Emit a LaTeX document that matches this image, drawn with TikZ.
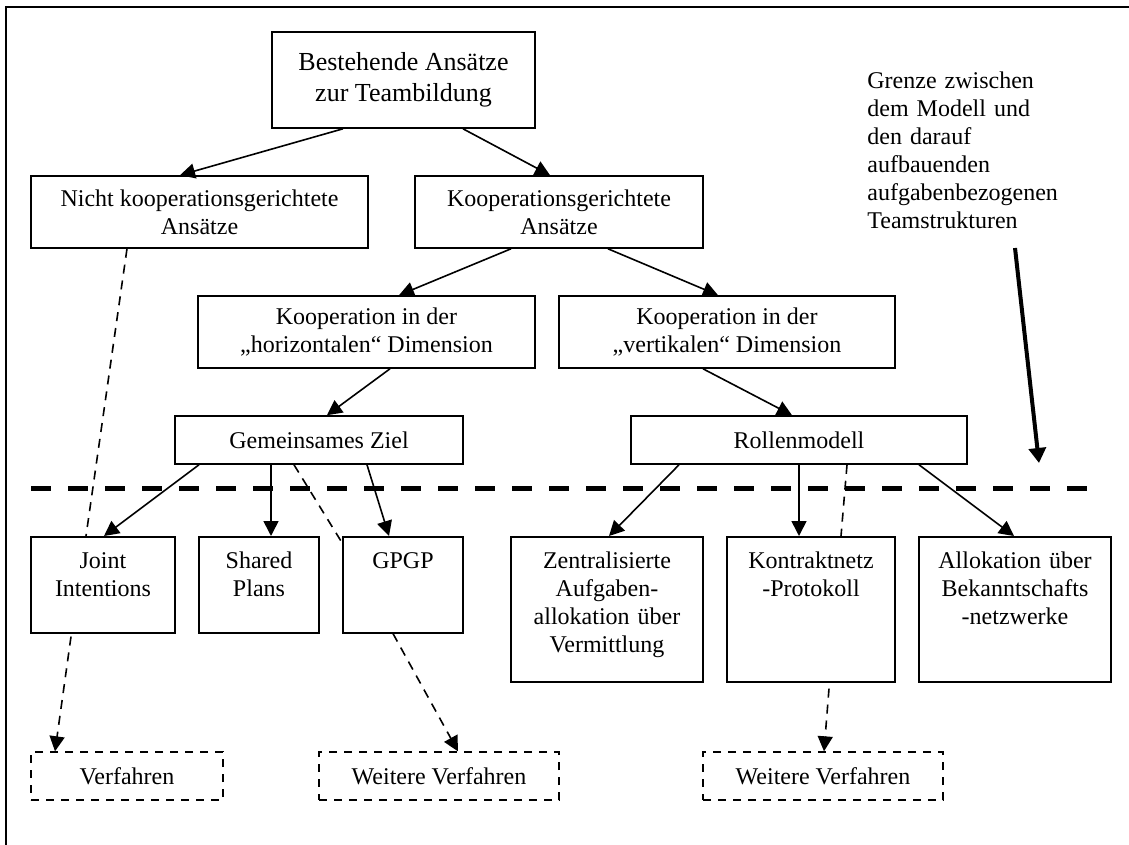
\documentclass[tikz,border=0pt]{standalone}
\usepackage{fontspec}
\setmainfont{Liberation Serif}
\usetikzlibrary{arrows.meta}

\begin{document}
\begin{tikzpicture}[
  x=0.5pt,y=-0.5pt,
  every node/.style={align=center,font=\fontsize{12}{14}\selectfont},
  approach/.style={draw,line width=0.8pt,inner sep=0pt},
  rootApproach/.style={approach,font=\fontsize{13}{15.5}\selectfont},
  concept/.style={draw,line width=0.8pt,anchor=north,inner xsep=0pt,inner ysep=7pt,text height=9pt},
  method/.style={draw,line width=0.7pt,dash pattern=on 4pt off 3.5pt,inner sep=0pt},
  note/.style={anchor=north west,align=left,inner sep=0pt,text height=9pt,text width=110pt},
  approachToApproach/.style={-{Triangle[length=7.5pt,width=7.5pt]},line width=0.8pt},
  approachToConcept/.style={-,line width=0.8pt,dash pattern=on 4.5pt off 3.5pt},
  conceptToMethod/.style={-{Triangle[length=7.5pt,width=7.5pt]},line width=0.8pt,dash pattern=on 4.5pt off 3.5pt},
  boundary/.style={line width=2.5pt,dash pattern=on 10pt off 8.5pt},
  boundaryHint/.style={-{Triangle[length=7.5pt,width=8.5pt]},line width=2pt}]

  \useasboundingbox (0,0) rectangle (1129,845);
  \clip (0,0) rectangle (1129,845);
  \draw [line width=1pt] (5.5,900) -- (5.5,7) -- (1129,7);

  % approaches
  \node[rootApproach,minimum width=131.5pt,minimum height=48pt] (aTeam) at (403.5,80) {Bestehende Ansätze\\zur Teambildung};
  \node[approach,minimum width=168.5pt,minimum height=36pt] (aNonCoop) at (199.5,212) {Nicht kooperationsgerichtete\\Ansätze};
  \node[approach,minimum width=144pt,minimum height=36pt] (aCoop) at (559,212) {Kooperationsgerichtete\\Ansätze};
  \node[approach,minimum width=168.5pt,minimum height=36pt] (aHorizontal) at (366.5,332) {Kooperation in der\\„horizontalen“ Dimension};
  \node[approach,minimum width=168pt,minimum height=36pt] (aVertical) at (727,332) {Kooperation in der\\„vertikalen“ Dimension};
  \node[approach,minimum width=144pt,minimum height=24pt] (aGoal) at (319,440) {Gemeinsames Ziel};
  \node[approach,minimum width=168pt,minimum height=24pt] (aRoles) at (799,440) {Rollenmodell};

  % concepts below the boundary
  \node[concept,minimum width=72pt,text width=68pt,text depth=25pt] (cJoint) at (103,536) {Joint\\Intentions};
  \node[concept,minimum width=60pt,text width=56pt,text depth=25pt] (cShared) at (259,536) {Shared\\Plans};
  \node[concept,minimum width=60pt,text width=56pt,text depth=25pt] (cGPGP) at (403,536) {GPGP};
  \node[concept,minimum width=96pt,text width=92pt,text depth=49.5pt] (cCentral) at (607,536) {Zentralisierte\\Aufgaben-\\allokation über\\Vermittlung};
  \node[concept,minimum width=84pt,text width=80pt,text depth=49.5pt] (cContract) at (811,536) {Kontraktnetz\\-Protokoll};
  \node[concept,minimum width=96pt,text width=92pt,text depth=49.5pt] (cAcquaint) at (1015,536) {Allokation über\\Bekanntschafts\\-netzwerke};

  % methods
  \node[method,minimum width=96pt,minimum height=24pt] (mJoint) at (127,776) {Verfahren};
  \node[method,minimum width=120pt,minimum height=24pt] (mGPGP) at (439,776) {Weitere Verfahren};
  \node[method,minimum width=120pt,minimum height=24pt] (mContract) at (823,776) {Weitere Verfahren};

  % boundary and its note
  \node[note] (nBoundary) at (867,70) {Grenze zwischen\\dem Modell und\\den darauf\\aufbauenden\\aufgabenbezogenen\\Teamstrukturen};
  \coordinate (bLeft) at (31,488);
  \coordinate (bRight) at (1087,488);
  \coordinate (hintStart) at (1015,248);
  \coordinate (hintEnd) at (1039,463);
  \draw [boundary] (bLeft) -- (bRight);
  \draw [boundaryHint] (hintStart) -- (hintEnd);

  % approaches to approaches
  \draw [approachToApproach] ([xshift=-30.25pt]aTeam.south) -- ([xshift=-9.75pt]aNonCoop.north);
  \draw [approachToApproach] ([xshift=29.75pt]aTeam.south) -- ([xshift=-4.5pt]aCoop.north);
  \draw [approachToApproach] ([xshift=-24pt]aCoop.south) -- ([xshift=16.25pt]aHorizontal.north);
  \draw [approachToApproach] ([xshift=24.5pt]aCoop.south) -- ([xshift=-4.5pt]aVertical.north);
  \draw [approachToApproach] ([xshift=11.75pt]aHorizontal.south) -- ([xshift=4pt]aGoal.north);
  \draw [approachToApproach] ([xshift=-12pt]aVertical.south) -- ([xshift=-3.5pt]aRoles.north);

  % approaches to concepts
  \draw [approachToApproach] ([xshift=-60pt]aGoal.south) -- ([xshift=0.5pt]cJoint.north);
  \draw [approachToApproach] ([xshift=-24pt]aGoal.south) -- ([xshift=6pt]cShared.north);
  \draw [approachToApproach] ([xshift=24pt]aGoal.south) -- ([xshift=-7pt]cGPGP.north);
  \draw [approachToApproach] ([xshift=-60pt]aRoles.south) -- ([xshift=1pt]cCentral.north);
  \draw [approachToApproach] (aRoles.south) -- ([xshift=-6pt]cContract.north);
  \draw [approachToApproach] ([xshift=60pt]aRoles.south) -- ([xshift=-0.5pt]cAcquaint.north);

  % dashed links
  \draw [approachToConcept] ([xshift=-36.25pt]aNonCoop.south) -- ([xshift=-8.5pt]cJoint.north);
  \draw [approachToConcept] ([xshift=-12.5pt]aGoal.south) -- ([yshift=-3.5pt]cGPGP.north west);
  \draw [approachToConcept] ([xshift=24pt]aRoles.south) -- ([xshift=15pt]cContract.north);

  % concepts to methods
  \draw [conceptToMethod] ([xshift=-16pt,yshift=-1.5pt]cJoint.south) -- ([xshift=-36pt]mJoint.north);
  \draw [conceptToMethod] ([xshift=-5pt]cGPGP.south) -- ([xshift=9.5pt]mGPGP.north);
  \draw [conceptToMethod] ([xshift=9pt,yshift=-3pt]cContract.south) -- ([xshift=0.5pt]mContract.north);

\end{tikzpicture}
\end{document}
